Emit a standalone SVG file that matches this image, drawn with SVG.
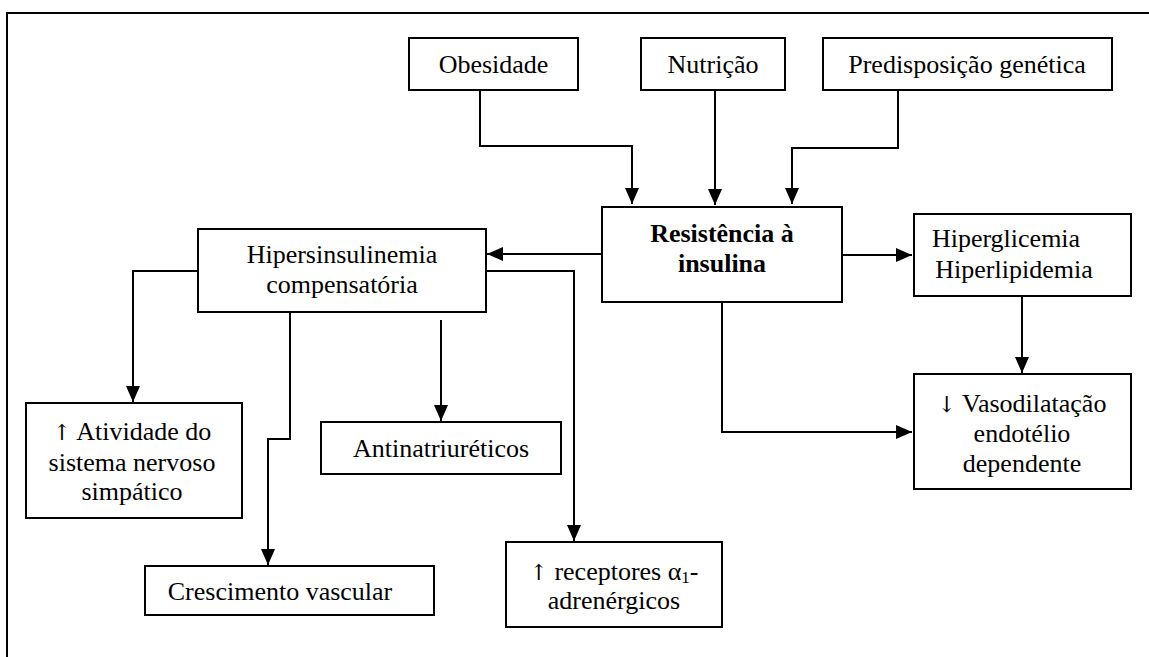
<svg xmlns="http://www.w3.org/2000/svg" width="1149" height="657" viewBox="0 0 1149 657">
<style>
  .box { fill: #fff; stroke: #000; stroke-width: 2; }
  .t { font-family: 'Liberation Serif', Tinos, 'DejaVu Serif', serif; font-size: 26px; fill: #000; text-anchor: middle; }
  .b { font-weight: bold; }
  .ar { font-family: 'DejaVu Serif', 'DejaVu Sans', serif; font-size: 22px; }
  .c { fill: none; stroke: #000; stroke-width: 2; marker-end: url(#arr); }
  .frame { fill: none; stroke: #000; stroke-width: 2; }
</style>
<defs>
  <marker id="arr" markerUnits="userSpaceOnUse" markerWidth="16" markerHeight="14" refX="16" refY="7" orient="auto">
    <path d="M0,0 L16,7 L0,14 z" fill="#000"/>
  </marker>
</defs>
<rect width="1149" height="657" fill="#fff"/>
<path class="frame" d="M7,657 V13 H1149"/>

<g id="connectors">
  <path class="c" d="M480,90 V146 H632 V204"/>
  <path class="c" d="M715,90 V205"/>
  <path class="c" d="M898,90 V148 H792 V204"/>
  <path class="c" d="M602,254 H487"/>
  <path class="c" d="M842,255 H912"/>
  <path class="c" d="M1022,296 V373"/>
  <path class="c" d="M722,302 V432 H912"/>
  <path class="c" d="M198,271 H133 V402"/>
  <path class="c" d="M290,312 V439 H268 V565"/>
  <path class="c" d="M441,320 V421"/>
  <path class="c" d="M486,271 H574 V541"/>
</g>

<g id="obesidade">
  <rect class="box" x="409" y="38" width="169" height="52"/>
  <text class="t" x="493.5" y="73">Obesidade</text>
</g>
<g id="nutricao">
  <rect class="box" x="641" y="38" width="144" height="52"/>
  <text class="t" x="713" y="73">Nutrição</text>
</g>
<g id="predisposicao">
  <rect class="box" x="823" y="38" width="289" height="52"/>
  <text class="t" x="967" y="73">Predisposição genética</text>
</g>
<g id="resistencia">
  <rect class="box" x="602" y="207" width="240" height="95"/>
  <text class="t b" x="722" y="242">Resistência à</text>
  <text class="t b" x="722" y="272">insulina</text>
</g>
<g id="hipersinsulinemia">
  <rect class="box" x="198" y="229" width="288" height="83"/>
  <text class="t" x="342" y="263">Hipersinsulinemia</text>
  <text class="t" x="342" y="293">compensatória</text>
</g>
<g id="hiperglicemia">
  <rect class="box" x="914" y="214" width="217" height="82"/>
  <text class="t" x="1006" y="247">Hiperglicemia</text>
  <text class="t" x="1014" y="278">Hiperlipidemia</text>
</g>
<g id="vasodilatacao">
  <rect class="box" x="914" y="374" width="217" height="115"/>
  <text class="t" x="1022" y="412"><tspan class="ar">↓</tspan> Vasodilatação</text>
  <text class="t" x="1022" y="442">endotélio</text>
  <text class="t" x="1022" y="472">dependente</text>
</g>
<g id="atividade">
  <rect class="box" x="26" y="403" width="216" height="115"/>
  <text class="t" x="132" y="440"><tspan class="ar">↑</tspan> Atividade do</text>
  <text class="t" x="132" y="471">sistema nervoso</text>
  <text class="t" x="132" y="500">simpático</text>
</g>
<g id="antinatriureticos">
  <rect class="box" x="321" y="422" width="240" height="52"/>
  <text class="t" x="441" y="457">Antinatriuréticos</text>
</g>
<g id="crescimento">
  <rect class="box" x="145" y="566" width="289" height="49"/>
  <text class="t" x="280" y="600">Crescimento vascular</text>
</g>
<g id="receptores">
  <rect class="box" x="506" y="542" width="216" height="85"/>
  <text class="t" x="614" y="580"><tspan class="ar">↑</tspan> receptores α<tspan font-size="17" dy="3">1</tspan><tspan dy="-3">-</tspan></text>
  <text class="t" x="614" y="609">adrenérgicos</text>
</g>
</svg>
